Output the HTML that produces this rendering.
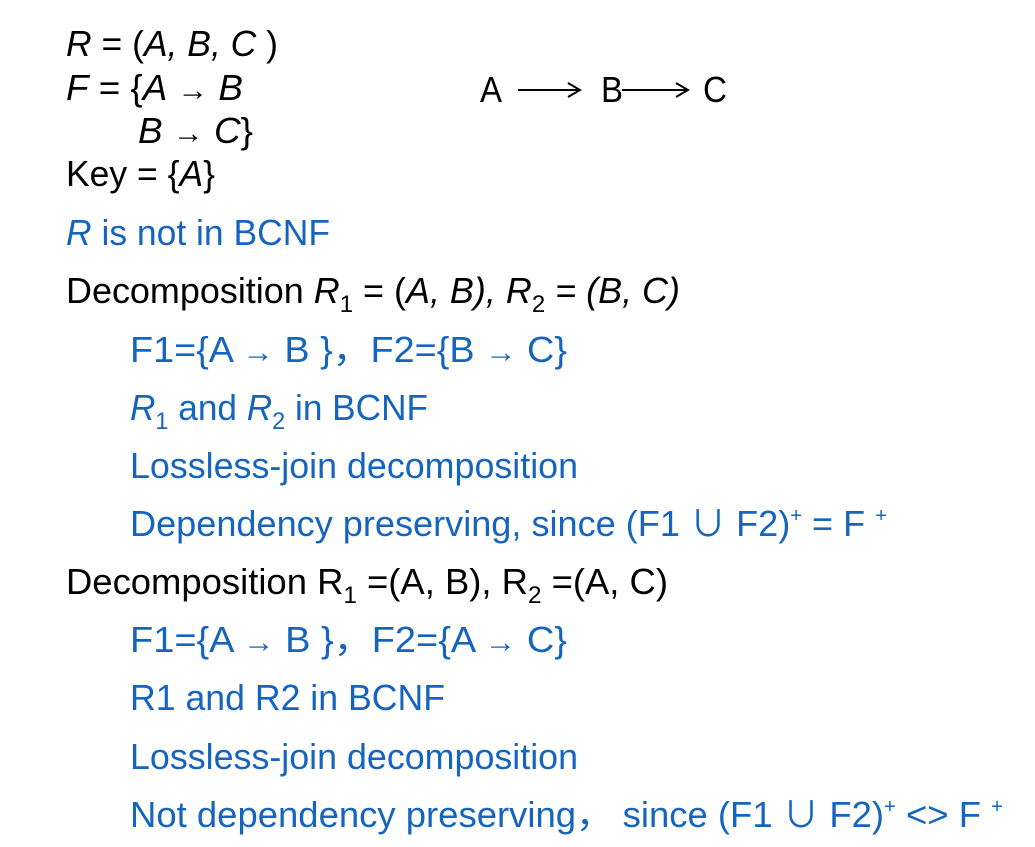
<!DOCTYPE html>
<html><head><meta charset="utf-8"><style>
html,body{margin:0;padding:0;background:#fff;}
svg{display:block}
text{font-family:"Liberation Sans","Noto Sans CJK SC",sans-serif;font-size:36px;}
.b{fill:#1565c0}
.k{fill:#000}
</style></head><body>
<svg width="1035" height="847" viewBox="0 0 1035 847" xmlns="http://www.w3.org/2000/svg">
<g class="k">
<text x="66" y="56" textLength="212" lengthAdjust="spacingAndGlyphs"><tspan font-style="italic">R</tspan> = (<tspan font-style="italic">A, B, C</tspan> )</text>
<text x="66" y="100" textLength="177" lengthAdjust="spacingAndGlyphs"><tspan font-style="italic">F</tspan> = {<tspan font-style="italic">A</tspan> <tspan font-size="30">→</tspan> <tspan font-style="italic">B</tspan></text>
<text x="138" y="143" textLength="115" lengthAdjust="spacingAndGlyphs"><tspan font-style="italic">B</tspan> <tspan font-size="30">→</tspan> <tspan font-style="italic">C</tspan>}</text>
<text x="66" y="186" textLength="149" lengthAdjust="spacingAndGlyphs">Key = {<tspan font-style="italic">A</tspan>}</text>
<text x="66" y="303" textLength="614" lengthAdjust="spacingAndGlyphs">Decomposition <tspan font-style="italic">R</tspan><tspan font-size="24" dy="9">1</tspan><tspan dy="-9"> = (</tspan><tspan font-style="italic">A, B), R</tspan><tspan font-size="24" dy="9">2</tspan><tspan dy="-9" font-style="italic"> = (B, C)</tspan></text>
<text x="66" y="594" textLength="602" lengthAdjust="spacingAndGlyphs">Decomposition R<tspan font-size="24" dy="9">1</tspan><tspan dy="-9"> =(A, B),  R</tspan><tspan font-size="24" dy="9">2</tspan><tspan dy="-9"> =(A, C)</tspan></text>
<text x="480" y="102" font-size="30" textLength="22" lengthAdjust="spacingAndGlyphs">A</text>
<text x="601" y="102" font-size="30" textLength="22" lengthAdjust="spacingAndGlyphs">B</text>
<text x="703" y="102" font-size="30" textLength="24" lengthAdjust="spacingAndGlyphs">C</text>
<line x1="518" y1="90" x2="578" y2="90" stroke="#000" stroke-width="2"/>
<path d="M568 83 L580 90 L568 97" fill="none" stroke="#000" stroke-width="2"/>
<line x1="622" y1="90" x2="686" y2="90" stroke="#000" stroke-width="2"/>
<path d="M676 83 L688 90 L676 97" fill="none" stroke="#000" stroke-width="2"/>
</g>
<g class="b">
<text x="66" y="245" textLength="264" lengthAdjust="spacingAndGlyphs"><tspan font-style="italic">R</tspan> is not in BCNF</text>
<text x="130" y="362" textLength="437" lengthAdjust="spacingAndGlyphs">F1={A <tspan font-size="30">→</tspan> B }，F2={B <tspan font-size="30">→</tspan> C}</text>
<text x="130" y="420" textLength="298" lengthAdjust="spacingAndGlyphs"><tspan font-style="italic">R</tspan><tspan font-size="24" dy="9">1</tspan><tspan dy="-9"> and </tspan><tspan font-style="italic">R</tspan><tspan font-size="24" dy="9">2</tspan><tspan dy="-9"> in BCNF</tspan></text>
<text x="130" y="478" textLength="448" lengthAdjust="spacingAndGlyphs">Lossless-join decomposition</text>
<text x="130" y="536" textLength="757" lengthAdjust="spacingAndGlyphs">Dependency preserving, since   (F1 ∪ F2)<tspan font-size="20" dy="-14">+</tspan><tspan dy="14"> = F </tspan><tspan font-size="20" dy="-14">+</tspan></text>
<text x="130" y="652" textLength="437" lengthAdjust="spacingAndGlyphs">F1={A <tspan font-size="30">→</tspan> B }，F2={A <tspan font-size="30">→</tspan> C}</text>
<text x="130" y="710" textLength="315" lengthAdjust="spacingAndGlyphs">R1 and R2 in BCNF</text>
<text x="130" y="769" textLength="448" lengthAdjust="spacingAndGlyphs">Lossless-join decomposition</text>
<text x="130" y="827" textLength="873" lengthAdjust="spacingAndGlyphs">Not dependency preserving，  since   (F1 ∪ F2)<tspan font-size="20" dy="-14">+</tspan><tspan dy="14"> &lt;&gt; F </tspan><tspan font-size="20" dy="-14">+</tspan></text>
</g>
</svg>
</body></html>
